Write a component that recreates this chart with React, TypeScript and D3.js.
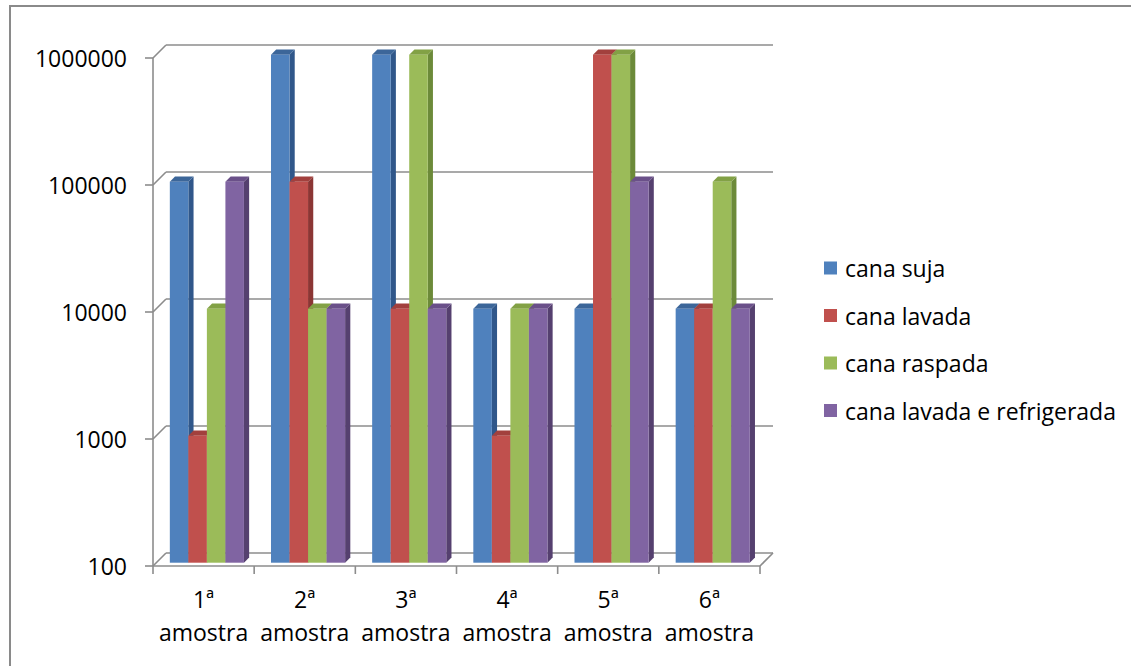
import React from "react";
import * as d3 from "d3";

const categories = ["1ª amostra", "2ª amostra", "3ª amostra", "4ª amostra", "5ª amostra", "6ª amostra"];
const seriesNames = ["cana suja", "cana lavada", "cana raspada", "cana lavada e refrigerada"];
const canaSuja = [100000, 1000000, 1000000, 10000, 10000, 10000];
const canaLavada = [1000, 100000, 10000, 1000, 1000000, 10000];
const canaRaspada = [10000, 10000, 1000000, 10000, 1000000, 100000];
const canaRefrigerada = [100000, 10000, 10000, 10000, 100000, 10000];
const yTicks = [100, 1000, 10000, 100000, 1000000];

const seriesValues = [canaSuja, canaLavada, canaRaspada, canaRefrigerada];
// front, side, top shades per series
const faceColors = [
  { front: "#4F81BD", side: "#30578A", top: "#3C6699" },
  { front: "#C0504D", side: "#8B3634", top: "#A2403D" },
  { front: "#9BBB59", side: "#6C8A39", top: "#82A145" },
  { front: "#8064A2", side: "#55406F", top: "#6A5089" },
];

const W = 1131;
const H = 666;
const FONT = "'Open Sans', 'Liberation Sans', sans-serif";

export default function App() {
  // front plane of the plot box
  const left = 153;
  const right = 760;
  const bottom = 566;
  const top = 58;
  const depth = 13; // wall depth (dx, -dy)
  const barOffset = 3.3; // bar front face distance from the front plane
  const barDepth = 5.2;

  const x0 = d3.scaleBand<string>().domain(categories).range([left, right]);
  const x1 = d3
    .scaleBand<string>()
    .domain(seriesNames)
    .range([0, x0.bandwidth()])
    .paddingOuter(0.73);
  const y = d3.scaleLog().domain([100, 1000000]).range([bottom, top]);

  const gridColor = "#8C8C8C";

  const bars: React.ReactNode[] = [];
  categories.forEach((cat, ci) => {
    seriesNames.forEach((s, si) => {
      const v = seriesValues[si][ci];
      const bw = x1.bandwidth();
      const xl = (x0(cat) as number) + (x1(s) as number) + barOffset;
      const xr = xl + bw;
      const yt = y(v) - barOffset;
      const yb = y(100) - barOffset;
      const c = faceColors[si];
      const d = barDepth;
      bars.push(
        <g key={`${ci}-${si}`}>
          <polygon
            points={`${xr},${yt} ${xr + d},${yt - d} ${xr + d},${yb - d} ${xr},${yb}`}
            fill={c.side}
          />
          <polygon
            points={`${xl},${yt} ${xl + d},${yt - d} ${xr + d},${yt - d} ${xr},${yt}`}
            fill={c.top}
          />
          <rect x={xl} y={yt} width={bw} height={yb - yt} fill={c.front} />
        </g>
      );
    });
  });

  return (
    <svg
      width={W}
      height={H}
      style={{ position: "absolute", left: 0, top: 0, background: "#fff" }}
      fontFamily={FONT}
    >
      {/* outer chart frame */}
      <rect x={10} y={6} width={W + 20} height={H + 20} fill="none" stroke="#8A8A8A" strokeWidth={2} />

      {/* back-wall gridlines with their diagonal returns */}
      {yTicks.map((t) => (
        <g key={t}>
          <line x1={left + depth} x2={right + depth} y1={y(t) - depth} y2={y(t) - depth} stroke={gridColor} strokeWidth={1.6} />
          <line x1={left} x2={left + depth} y1={y(t)} y2={y(t) - depth} stroke={gridColor} strokeWidth={1.6} />
        </g>
      ))}

      {/* floor */}
      <line x1={left} x2={right} y1={bottom} y2={bottom} stroke={gridColor} strokeWidth={1.6} />
      <line x1={right} x2={right + depth} y1={bottom} y2={bottom - depth} stroke={gridColor} strokeWidth={1.6} />

      {/* value axis */}
      <line x1={left} x2={left} y1={top} y2={bottom} stroke={gridColor} strokeWidth={1.6} />
      {yTicks.map((t) => (
        <g key={`yt-${t}`}>
          <line x1={left - 8} x2={left} y1={y(t)} y2={y(t)} stroke={gridColor} strokeWidth={1.6} />
          <text x={127} y={y(t)} textAnchor="end" dominantBaseline="central" fontSize={23} fill="#000">
            {t}
          </text>
        </g>
      ))}

      {/* category axis */}
      {[...categories.map((c) => x0(c) as number), right].map((xv, i) => (
        <line key={`xt-${i}`} x1={xv} x2={xv} y1={bottom} y2={bottom + 8} stroke={gridColor} strokeWidth={1.6} />
      ))}
      {categories.map((c) => {
        const cx = (x0(c) as number) + x0.bandwidth() / 2;
        const [first, second] = c.split(" ");
        return (
          <g key={`xl-${c}`}>
            <text x={cx} y={608} textAnchor="middle" fontSize={23} fill="#000">
              {first}
            </text>
            <text x={cx} y={641} textAnchor="middle" fontSize={23} fill="#000">
              {second}
            </text>
          </g>
        );
      })}

      {bars}

      {/* legend */}
      {seriesNames.map((s, i) => {
        const cy = 268 + i * 47.5;
        return (
          <g key={`lg-${s}`}>
            <rect x={824} y={cy - 6.5} width={13} height={13} fill={faceColors[i].front} />
            <text x={845} y={cy} dominantBaseline="central" fontSize={23} fill="#000">
              {s}
            </text>
          </g>
        );
      })}
    </svg>
  );
}
